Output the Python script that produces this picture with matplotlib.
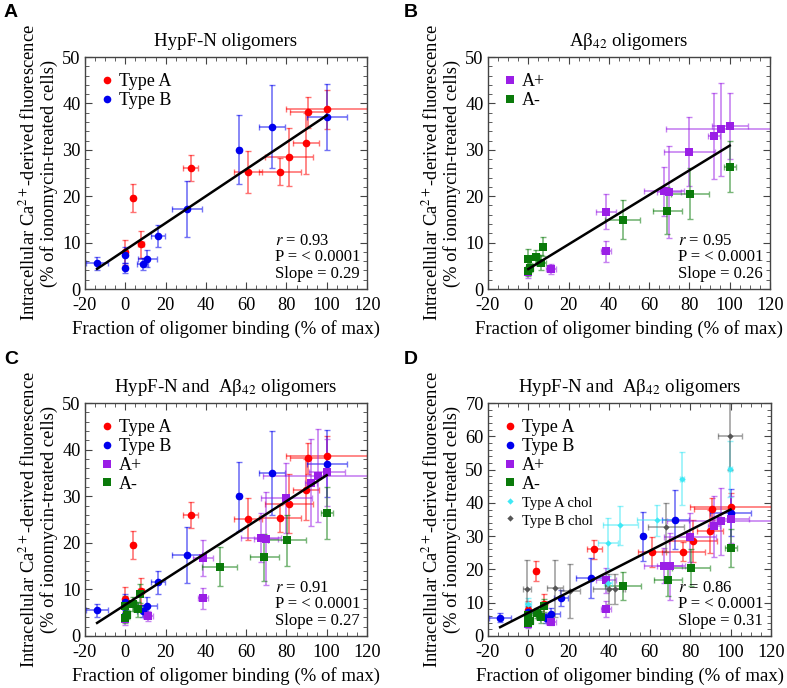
import matplotlib
matplotlib.use("Agg")
import matplotlib.pyplot as plt
import numpy as np
from matplotlib.ticker import MultipleLocator

plt.rcParams['font.family'] = ['Liberation Serif', 'DejaVu Serif']
plt.rcParams['mathtext.fontset'] = 'stix'
plt.rcParams['axes.unicode_minus'] = False

# HypF-N type A oligomers (red)
typeA_x = [100, 90.8, 89.9, 81.3, 76.7, 61.1, 32.6, 3.7, 7.8, 0]
typeA_y = [38.7, 38.1, 31.4, 28.4, 25.3, 25.2, 26.0, 19.6, 9.6, 7.9]
typeA_xerr = [20, 9, 6.5, 11.8, 10.5, 7, 3.7, 1, 1.5, 0.8]
typeA_yerr = [4.2, 3.3, 6.6, 6.3, 2.9, 4.5, 2.8, 3, 2.9, 2.7]

# HypF-N type B oligomers (blue)
typeB_x = [100, 72.7, 56.5, 30.8, 16.1, 11, 8.6, -0.2, 0, -14]
typeB_y = [37, 35, 30, 17.3, 11.5, 6.5, 5.3, 7.3, 4.5, 5.5]
typeB_xerr = [10, 6.5, 1, 7.5, 3.5, 4.7, 2.7, 0.8, 0.8, 5.5]
typeB_yerr = [7.1, 9, 7.4, 6, 2.4, 1.8, 1.3, 1.8, 1, 1.4]

# Abeta42 A+ (purple)
aplus_x = [100, 95.5, 92, 80, 67.3, 69.8, 38.5, 38.5, 11.2, 0]
aplus_y = [35.1, 34.4, 32.9, 29.6, 21.1, 20.9, 16.7, 8.1, 4.3, 3.6]
aplus_xerr = [9, 27, 3, 12.7, 10, 6, 5, 2.5, 2.5, 0.8]
aplus_yerr = [7.1, 10, 9.3, 7.5, 5.3, 10, 3.8, 2.3, 1, 1.3]

# Abeta42 A- (green)
aminus_x = [100, 80.2, 69.1, 46.8, 7.5, 4, 0, 6.4, 0.9, 0]
aminus_y = [26.4, 20.5, 16.9, 14.9, 9.1, 6.8, 6.4, 5.7, 4.6, 3.8]
aminus_xerr = [3, 9.4, 7, 8.9, 1, 2, 0.8, 2.5, 1.5, 0.8]
aminus_yerr = [5.6, 5.5, 5, 4.2, 2, 1.5, 2.2, 1.7, 1, 1]

# type A with cholesterol (cyan)
cholA_x = [99.8, 76.1, 63.6, 45.5, 39.4, 39.4, 0]
cholA_y = [50.2, 47.3, 34.7, 33.3, 27.8, 16, 9.5]
cholA_xerr = [1, 1, 10, 8.8, 5, 2, 1.5]
cholA_yerr = [8.3, 8, 4.7, 5.9, 7.7, 2, 2]

# type B with cholesterol (grey)
cholB_x = [99.8, 68.2, 43, 39.7, 20.4, 13.2, -0.5]
cholB_y = [60, 32.6, 14.2, 14.2, 13.5, 14.3, 14.2]
cholB_xerr = [6, 9, 4, 8, 5, 4, 2]
cholB_yerr = [10, 7.5, 4.5, 4.5, 8, 8.5, 8.5]

# linear fits: (slope, intercept, r)
fit_A = (0.29, 8.4, 0.93)
fit_B = (0.266, 4.3, 0.95)
fit_C = (0.278, 6.7, 0.91)
fit_D = (0.31, 7.0, 0.86)
slope_labels = ['0.29', '0.26', '0.27', '0.31']

groups = {
    'Type A': (typeA_x, typeA_y, typeA_xerr, typeA_yerr, '#ff0000', 'o', 5.5),
    'Type B': (typeB_x, typeB_y, typeB_xerr, typeB_yerr, '#0000ee', 'o', 5.5),
    'A+': (aplus_x, aplus_y, aplus_xerr, aplus_yerr, '#9a1ee6', 's', 5.2),
    'A-': (aminus_x, aminus_y, aminus_xerr, aminus_yerr, '#0a7a0a', 's', 5.2),
    'Type A chol': (cholA_x, cholA_y, cholA_xerr, cholA_yerr, '#3ee8f5', 'D', 3.2),
    'Type B chol': (cholB_x, cholB_y, cholB_xerr, cholB_yerr, '#555555', 'D', 3.2),
}

W, H = 787, 688
fig = plt.figure(figsize=(W / 100, H / 100), dpi=100)


def px_axes(left, top, right, bottom):
    return fig.add_axes([left / W, 1 - bottom / H, (right - left) / W, (bottom - top) / H])


def draw_panel(ax, names, fit, slope_txt, title, ymax, letter, lpos):
    xs_all = []
    handles = []
    for name in names:
        x, y, xe, ye, c, m, ms = groups[name]
        ax.errorbar(x, y, xerr=xe, yerr=ye, fmt='none', ecolor=c, alpha=0.55,
                    elinewidth=1.2, capsize=2, capthick=1.0, zorder=2)
        h, = ax.plot(x, y, linestyle='none', marker=m, color=c, markersize=ms,
                     markeredgewidth=0, zorder=3, label=name)
        handles.append(h)
        xs_all += list(x)
    slope, icpt, r = fit
    xl = np.array([min(xs_all), max(xs_all)])
    ax.plot(xl, slope * xl + icpt, color='black', lw=1.8, zorder=4)

    ax.set_xlim(-20, 120)
    ax.set_ylim(0, ymax)
    ax.xaxis.set_major_locator(MultipleLocator(20))
    ax.xaxis.set_minor_locator(MultipleLocator(5))
    ax.yaxis.set_major_locator(MultipleLocator(10))
    ax.yaxis.set_minor_locator(MultipleLocator(2))
    ax.tick_params(which='both', direction='in', top=True, right=True, color='#444444')
    ax.tick_params(which='major', length=5, labelsize=13.2)
    ax.tick_params(axis='x', which='major', pad=6)
    ax.tick_params(axis='y', which='major', pad=3)
    ax.tick_params(which='minor', length=3)
    for s in ax.spines.values():
        s.set_color('#444444')
        s.set_linewidth(1.0)

    ax.set_title(title, fontsize=13.6, pad=8)
    ax.set_xlabel('Fraction of oligomer binding (% of max)', fontsize=13.5, labelpad=4)
    ax.set_ylabel('Intracellular Ca$^{2+}$-derived fluorescence\n(% of ionomycin-treated cells)',
                  fontsize=13.3, labelpad=3, linespacing=1.15)

    leg = ax.legend(handles=handles, loc='upper left', frameon=False, fontsize=13,
                    handlelength=0.6, handletextpad=0.4, labelspacing=0.1,
                    borderaxespad=0.5, markerscale=1.0)
    for t in leg.get_texts():
        if 'chol' in t.get_text():
            t.set_fontsize(10.5)

    ax.text(0.672, 0.03, '$r$ = %.2f\nP = < 0.0001\nSlope = %s' % (r, slope_txt),
            transform=ax.transAxes, fontsize=12, linespacing=1.05, va='bottom', ha='left')
    fig.text(lpos[0] / W, 1 - lpos[1] / H, letter, fontsize=14, fontweight='bold',
             family='Liberation Sans', va='top', ha='left')


axA = px_axes(85, 57, 367, 289)
axB = px_axes(488, 57, 770, 289)
axC = px_axes(85, 403, 367, 636)
axD = px_axes(488, 403, 771, 636)

draw_panel(axA, ['Type A', 'Type B'], fit_A, slope_labels[0], 'HypF-N oligomers', 50, 'A', (4, 4))
draw_panel(axB, ['A+', 'A-'], fit_B, slope_labels[1], 'Aβ$_{42}$ oligomers', 50, 'B', (404, 4))
draw_panel(axC, ['Type A', 'Type B', 'A+', 'A-'], fit_C, slope_labels[2],
           'HypF-N and  Aβ$_{42}$ oligomers', 50, 'C', (4, 351))
draw_panel(axD, ['Type A', 'Type B', 'A+', 'A-', 'Type A chol', 'Type B chol'], fit_D,
           slope_labels[3], 'HypF-N and  Aβ$_{42}$ oligomers', 70, 'D', (404, 351))

fig.savefig('out.png', dpi=100)
